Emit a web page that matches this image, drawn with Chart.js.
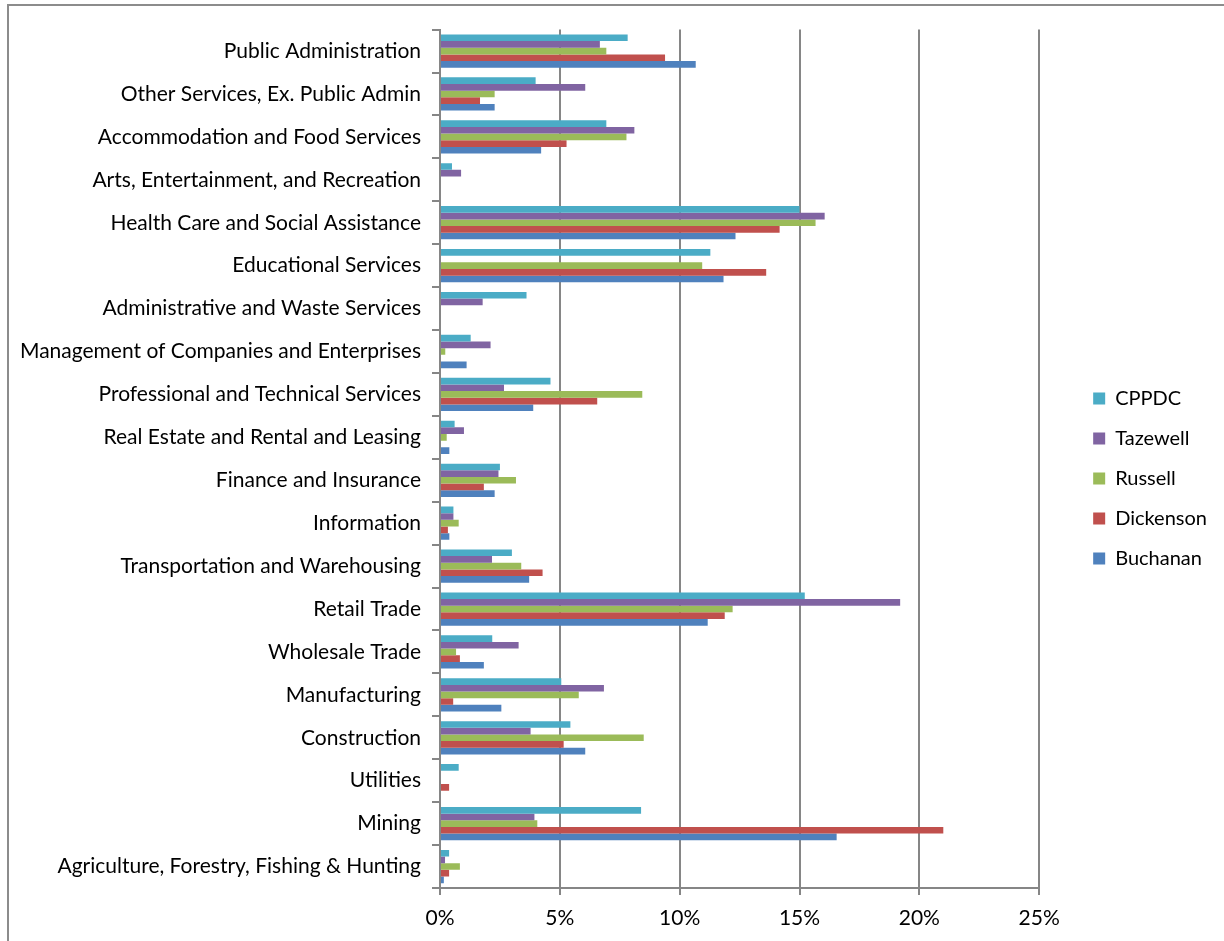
<!DOCTYPE html>
<html>
<head>
<meta charset="utf-8">
<script src="https://cdn.jsdelivr.net/npm/chart.js@4/dist/chart.umd.min.js"></script>
<style>
    html, body { margin: 0; padding: 0; background: #fff; overflow: hidden; }
    #frame {
        position: absolute; left: 7px; top: 4px;
        width: 1300px; height: 1000px;
        border: 2px solid #8c8c8c;
    }
    #industryChart { position: absolute; left: 0; top: 0; }
</style>
</head>
<body>
<div id="frame">
    <canvas id="industryChart" width="1215" height="940" style="width:1215px;height:940px"></canvas>
</div>
<script>
// Industry categories, listed top to bottom as drawn
const categories = [
    'Public Administration',
    'Other Services, Ex. Public Admin',
    'Accommodation and Food Services',
    'Arts, Entertainment, and Recreation',
    'Health Care and Social Assistance',
    'Educational Services',
    'Administrative and Waste Services',
    'Management of Companies and Enterprises',
    'Professional and Technical Services',
    'Real Estate and Rental and Leasing',
    'Finance and Insurance',
    'Information',
    'Transportation and Warehousing',
    'Retail Trade',
    'Wholesale Trade',
    'Manufacturing',
    'Construction',
    'Utilities',
    'Mining',
    'Agriculture, Forestry, Fishing & Hunting'
];

// Share of employment (%), same order as categories
const cppdc     = [7.83, 3.99, 6.94, 0.50, 15.00, 11.28, 3.61, 1.28, 4.61, 0.61, 2.50, 0.56, 3.00, 15.22, 2.18, 5.06, 5.44, 0.78, 8.39, 0.38];
const tazewell  = [6.67, 6.06, 8.11, 0.88, 16.05, 0, 1.78, 2.11, 2.67, 1.00, 2.44, 0.56, 2.17, 19.20, 3.28, 6.84, 3.78, 0, 3.94, 0.21];
const russell   = [6.94, 2.28, 7.78, 0, 15.67, 10.94, 0, 0.22, 8.44, 0.28, 3.17, 0.78, 3.39, 12.21, 0.67, 5.79, 8.50, 0, 4.06, 0.83];
const dickenson = [9.39, 1.67, 5.28, 0, 14.17, 13.61, 0, 0, 6.56, 0, 1.83, 0.33, 4.28, 11.88, 0.83, 0.55, 5.16, 0.38, 21.00, 0.38];
const buchanan  = [10.67, 2.28, 4.22, 0, 12.33, 11.83, 0, 1.11, 3.89, 0.39, 2.28, 0.39, 3.72, 11.17, 1.83, 2.56, 6.06, 0, 16.55, 0.16];

const seriesNames = ['CPPDC', 'Tazewell', 'Russell', 'Dickenson', 'Buchanan'];
const seriesValues = [cppdc, tazewell, russell, dickenson, buchanan];
const seriesColors = ['#4bacc6', '#8064a2', '#9bbb59', '#c0504d', '#4f81bd'];

// x axis tick values (percent)
const xMin = 0, xMax = 25, xStep = 5;

const gridGray = '#868686';

Chart.defaults.font.family = 'Lato, sans-serif';
Chart.defaults.font.size = 21;
Chart.defaults.color = '#000';

const ctx = document.getElementById('industryChart').getContext('2d');
const industryChart = new Chart(ctx, {
    type: 'bar',
    data: {
        labels: categories,
        datasets: seriesNames.map((name, i) => ({
            label: name,
            data: seriesValues[i],
            backgroundColor: seriesColors[i],
            borderWidth: 0,
            yAxisID: 'y',
            categoryPercentage: 0.775,
            barPercentage: 1.0
        }))
    },
    options: {
        indexAxis: 'y',
        responsive: false,
        animation: false,
        devicePixelRatio: 1,
        layout: {
            padding: { top: 23, bottom: 18, left: 0, right: 7 }
        },
        scales: {
            x: {
                min: xMin,
                max: xMax,
                ticks: {
                    stepSize: xStep,
                    padding: 11,
                    callback: v => v + '%'
                },
                grid: { color: gridGray, lineWidth: 2, tickLength: 7 },
                border: { color: gridGray, width: 2 },
                afterFit: s => { s.height = 40; }
            },
            y: {
                position: 'left',
                ticks: { padding: 11 },
                grid: { drawOnChartArea: false, color: gridGray, lineWidth: 2, tickLength: 8 },
                border: { color: gridGray, width: 2 },
                afterFit: s => { s.width = 431; }
            },
            // empty right-hand axis used only as a gap before the legend
            yGap: {
                position: 'right',
                ticks: { display: false },
                grid: { display: false },
                border: { display: false },
                afterFit: s => { s.width = 34; }
            }
        },
        plugins: {
            legend: {
                position: 'right',
                labels: {
                    boxWidth: 12,
                    boxHeight: 12,
                    padding: 20,
                    font: { size: 20 }
                }
            },
            tooltip: { enabled: false }
        }
    }
});
</script>
</body>
</html>
